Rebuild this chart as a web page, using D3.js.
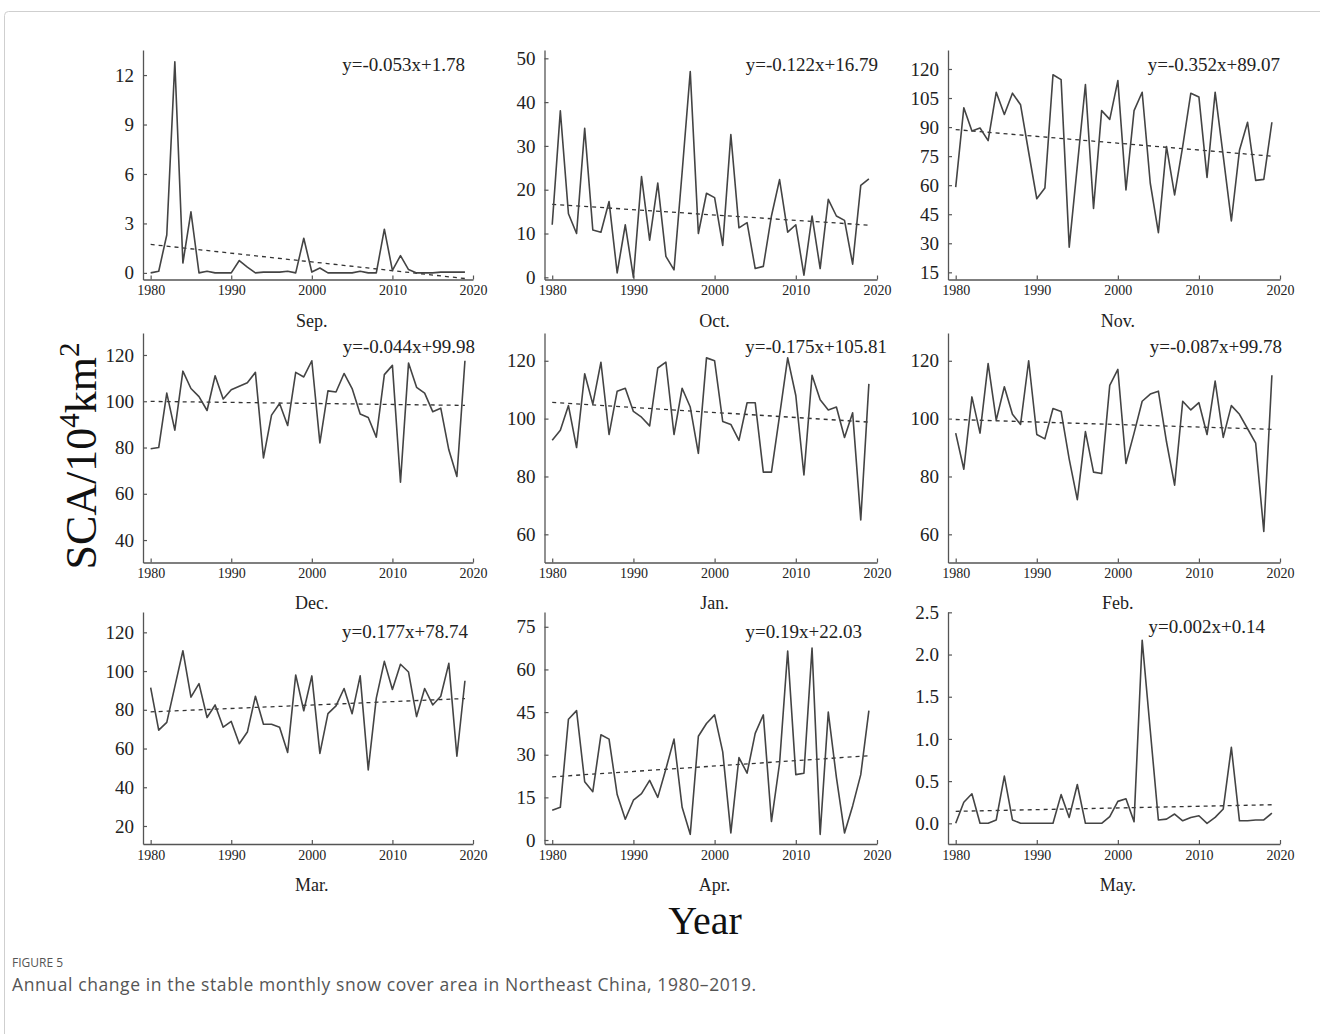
<!DOCTYPE html>
<html>
<head>
<meta charset="utf-8">
<script src="https://cdn.jsdelivr.net/npm/d3@7"></script>
<style>
  html, body { margin: 0; padding: 0; background: #fff; }
  svg { display: block; }
</style>
</head>
<body>
<svg id="chart" width="1320" height="1034"></svg>
<script>
// ---------------- DATA ----------------
const years = d3.range(1980, 2020);
const monthLabels = ["Sep.", "Oct.", "Nov.", "Dec.", "Jan.", "Feb.", "Mar.", "Apr.", "May."];
const sep = [0.0,0.1,2.3,12.8,0.6,3.7,0.0,0.1,0.0,0.0,0.0,0.75,0.35,0.0,0.05,0.05,0.05,0.1,0.0,2.1,
             0.05,0.3,0.0,0.0,0.0,0.0,0.1,0.0,0.0,2.65,0.15,1.05,0.2,0.0,0.0,0.0,0.05,0.05,0.05,0.05];
const oct = [12,38,14.5,10,34,10.8,10.3,17.3,1,12,0,23,8.5,21.5,4.8,1.7,24,47,10,19.2,
             18.2,7.3,32.6,11.3,12.5,2,2.5,14,22.3,10.3,12,0.5,14,2,17.8,14,13,3,21,22.5];
const nov = [59,100,88,89.5,83,108,96.5,107.5,101.5,77,53,58.5,117,114.5,28,70,112,48,98.5,94,
             114,57.5,98.5,108,61,35.5,80,55,80,107.5,105.5,64,108,75,41.5,78,92.5,62.5,63,92.5];
const dec = [79.5,80,103.5,87.5,113,105.5,102,96,111,101,105,106.5,108,112.5,75.5,94,99,89.5,112.5,110.5,
             117.5,82,104.5,104,112,105.5,94.5,93,84.5,111.5,115.5,65,116.5,106,103.5,95.5,97,79,67.5,117.5];
const jan = [92.5,96,104.5,90,115.5,105,119.5,94.5,109.5,110.5,102.5,100.5,97.5,117.5,119.5,94.5,110.5,104,88,121,
             120,99,98,92.5,105.5,105.5,81.5,81.5,101,121,108,80.5,115,106.5,103,104,93.5,102,65,112];
const feb = [95,82.5,107.5,95,119,99.5,111,101.5,98,120,94.5,93,103.5,102.5,86,72,95.5,81.5,81,111.5,
             117,84.5,95,106,108.5,109.5,92,77,106,103,105.5,94.5,113,93.5,104.5,101.5,96.5,91.5,61,115];
const mar = [91.5,69.5,73.5,92,110.5,86.5,93.5,76,82.5,71,74,62.5,68.5,87,72.5,72.5,71,58,98,79.5,
             97.5,57.5,78,82,91,78,97.5,49,86,105,90.5,103.5,99.5,76.5,91,82.5,87,104,56,95];
const apr = [10.5,11.5,42.5,45.5,20.5,17,37,35.5,16,7.3,14,16.3,21,15,25,35.5,11.5,2,36.5,41,
             44,31,2.5,29,23.5,37.5,44,6.5,27,66.5,23,23.5,67.5,2,45,22,2.5,12,23,45.5];
const may = [0.0,0.25,0.35,0.0,0.0,0.04,0.56,0.04,0.0,0.0,0.0,0.0,0.0,0.34,0.07,0.46,0.0,0.0,0.0,0.08,
             0.26,0.29,0.02,2.17,1.1,0.04,0.05,0.11,0.03,0.07,0.09,0.0,0.07,0.17,0.9,0.03,0.03,0.04,0.04,0.12];
const series = [sep, oct, nov, dec, jan, feb, mar, apr, may];
// trend-line equations y = slope * x + intercept (x = 1..40)
const slopes = [-0.053, -0.122, -0.352, -0.044, -0.175, -0.087, 0.177, 0.19, 0.002];
const intercepts = [1.78, 16.79, 89.07, 99.98, 105.81, 99.78, 78.74, 22.03, 0.14];
const equations = ["y=-0.053x+1.78", "y=-0.122x+16.79", "y=-0.352x+89.07",
                   "y=-0.044x+99.98", "y=-0.175x+105.81", "y=-0.087x+99.78",
                   "y=0.177x+78.74", "y=0.19x+22.03", "y=0.002x+0.14"];
const yTicks = [
  [0, 3, 6, 9, 12],
  [0, 10, 20, 30, 40, 50],
  [15, 30, 45, 60, 75, 90, 105, 120],
  [40, 60, 80, 100, 120],
  [60, 80, 100, 120],
  [60, 80, 100, 120],
  [20, 40, 60, 80, 100, 120],
  [0, 15, 30, 45, 60, 75],
  [0.0, 0.5, 1.0, 1.5, 2.0, 2.5]
];
const xTicks = [1980, 1990, 2000, 2010, 2020];
const yLabel = "SCA/10";
const xLabel = "Year";
const figTitle = "FIGURE 5";
const figCaption = "Annual change in the stable monthly snow cover area in Northeast China, 1980\u20132019.";

// ---------------- LAYOUT ----------------
const colX = [[143, 473], [544.5, 877], [948, 1280]];   // y-axis x, x(2020)
const rowY = [[279.5, 50], [562.5, 333], [844, 612]];   // bottom, top
const yDomains = [
  [-0.4, 13.52], [-0.5, 51.9], [11.3, 129.8],
  [30.3, 129.5], [50.26, 129.6], [50.26, 129.6],
  [10.7, 130.5], [-1.4, 80.2], [-0.245, 2.504]
];
const eqRight = [465, 878, 1280, 475, 887, 1282, 468, 862, 1265];
const eqBase = [71, 71, 71, 353, 353, 353, 638, 638, 633];
const monthBase = [327, 327, 327, 609, 609, 609, 891, 891, 891];

const svg = d3.select("#chart");
const serif = "'Liberation Serif', 'Times New Roman', serif";

// frame
svg.append("rect")
  .attr("x", 4.5).attr("y", 11.5).attr("width", 1400).attr("height", 1100)
  .attr("rx", 4).attr("fill", "none").attr("stroke", "#cfcfcf").attr("stroke-width", 1);

series.forEach((vals, i) => {
  const col = i % 3, row = Math.floor(i / 3);
  const [ax, xEnd] = colX[col];
  const [yb, yt] = rowY[row];
  const x = d3.scaleLinear().domain([1979.05, 2020]).range([ax, xEnd]);
  const y = d3.scaleLinear().domain(yDomains[i]).range([yb, yt]);
  const g = svg.append("g");

  // axes
  const fmt = i === 8 ? d3.format(".1f") : d3.format("d");
  const yAxis = d3.axisLeft(y).tickValues(yTicks[i]).tickFormat(fmt).tickSizeInner(-4).tickSizeOuter(0).tickPadding(9);
  const gy = g.append("g").attr("transform", `translate(${ax},0)`).call(yAxis);
  const xAxis = d3.axisBottom(x).tickValues(xTicks).tickFormat(d3.format("d")).tickSizeInner(-4).tickSizeOuter(0).tickPadding(6);
  const gx = g.append("g").attr("transform", `translate(0,${yb})`).call(xAxis);
  [gx, gy].forEach(a => {
    a.select(".domain").attr("stroke", "#555").attr("stroke-width", 1.3);
    a.selectAll(".tick line").attr("stroke", "#555").attr("stroke-width", 1.2);
    a.selectAll("text").attr("fill", "#222").attr("font-family", serif);
  });
  gy.selectAll("text").attr("font-size", 19);
  gx.selectAll("text").attr("font-size", 14);

  // trend line (dashed)
  const trend = [1, 40].map(k => ({ yr: years[k - 1], v: slopes[i] * k + intercepts[i] }));
  g.append("path")
    .datum(trend)
    .attr("d", d3.line().x(d => x(d.yr)).y(d => y(d.v)))
    .attr("fill", "none").attr("stroke", "#333").attr("stroke-width", 1.3)
    .attr("stroke-dasharray", "4,4");

  // series line
  g.append("path")
    .datum(vals.map((v, k) => ({ yr: years[k], v })))
    .attr("d", d3.line().x(d => x(d.yr)).y(d => y(d.v)))
    .attr("fill", "none").attr("stroke", "#444").attr("stroke-width", 1.6)
    .attr("stroke-linejoin", "round");

  // equation
  g.append("text")
    .attr("x", eqRight[i]).attr("y", eqBase[i])
    .attr("text-anchor", "end").attr("font-family", serif).attr("font-size", 19)
    .attr("fill", "#222").text(equations[i]);

  // month label
  g.append("text")
    .attr("x", (x(1980) + x(2020)) / 2).attr("y", monthBase[i])
    .attr("text-anchor", "middle").attr("font-family", serif).attr("font-size", 18)
    .attr("fill", "#222").text(monthLabels[i]);
});

// y label
const yl = svg.append("text")
  .attr("transform", "translate(96,456) rotate(-90)")
  .attr("text-anchor", "middle").attr("font-family", serif).attr("font-size", 44)
  .attr("fill", "#111");
yl.append("tspan").text(yLabel);
yl.append("tspan").attr("font-size", 29).attr("dy", -17).text("4");
yl.append("tspan").attr("dy", 17).text("km");
yl.append("tspan").attr("font-size", 29).attr("dy", -17).text("2");

// x label
svg.append("text")
  .attr("x", 705).attr("y", 934)
  .attr("text-anchor", "middle").attr("font-family", serif).attr("font-size", 40)
  .attr("fill", "#111").text(xLabel);

// caption
svg.append("text")
  .attr("x", 12).attr("y", 967)
  .attr("font-family", "'Open Sans', sans-serif").attr("font-size", 12)
  .attr("fill", "#555").text(figTitle);
svg.append("text")
  .attr("x", 12).attr("y", 991)
  .attr("font-family", "'Open Sans', sans-serif").attr("font-size", 17.5)
  .attr("letter-spacing", 0.6)
  .attr("fill", "#555").text(figCaption);
</script>
</body>
</html>
